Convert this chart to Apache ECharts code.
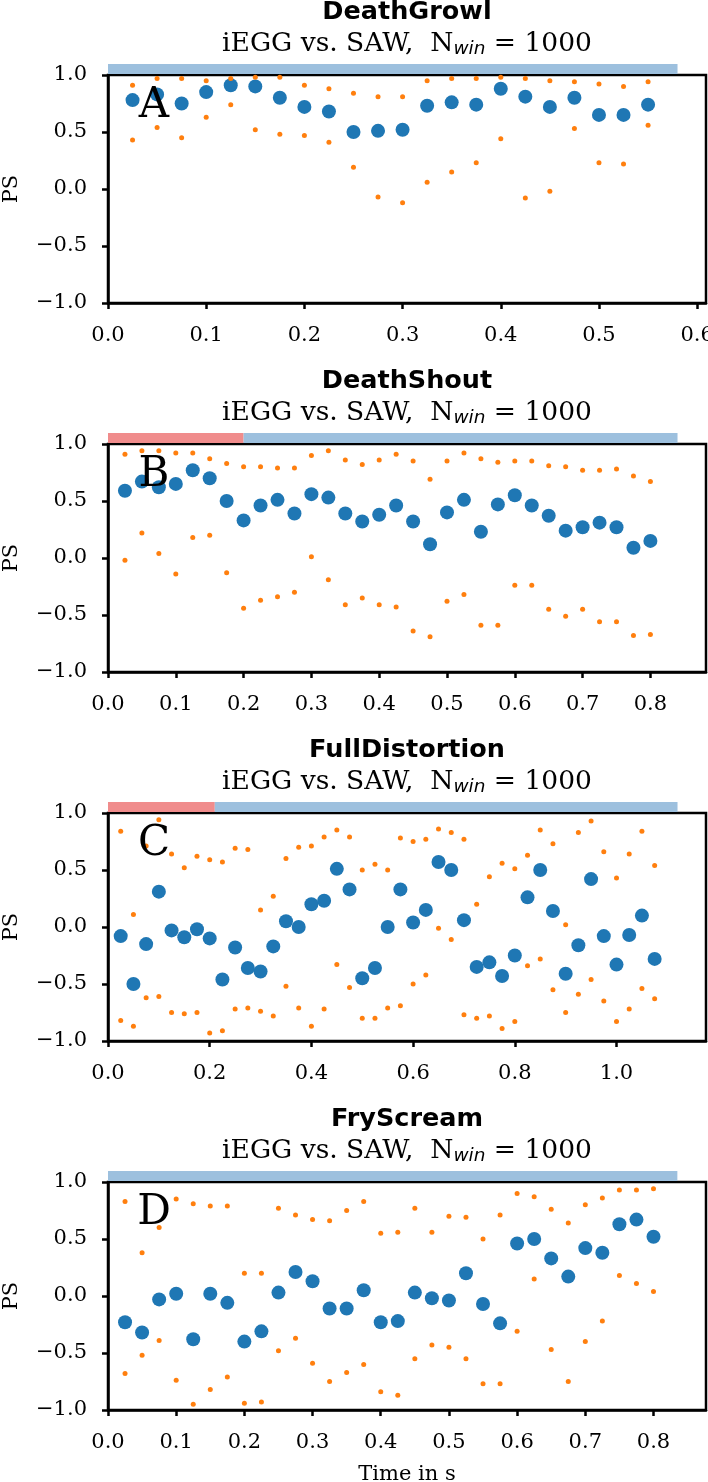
<!DOCTYPE html>
<html><head><meta charset="utf-8">
<script src="https://cdn.jsdelivr.net/npm/echarts@6/dist/echarts.min.js"></script>
<style>html,body{margin:0;padding:0;background:#fff}#c{width:708px;height:1482px}</style>
</head><body><div id="c"></div>
<script>
// ---------- data ----------
const panelNames = ['DeathGrowl', 'DeathShout', 'FullDistortion', 'FryScream'];
const panelLetters = ['A', 'B', 'C', 'D'];
const subtitleMain1 = 'iEGG vs. SAW,  N';
const subtitleSub = 'win';
const subtitleMain2 = ' = 1000';

const yTicks = [-1.0, -0.5, 0.0, 0.5, 1.0];
const xTicksA = [0.0, 0.1, 0.2, 0.3, 0.4, 0.5, 0.6];
const xTicksB = [0.0, 0.1, 0.2, 0.3, 0.4, 0.5, 0.6, 0.7, 0.8];
const xTicksC = [0.0, 0.2, 0.4, 0.6, 0.8, 1.0];
const xTicksD = [0.0, 0.1, 0.2, 0.3, 0.4, 0.5, 0.6, 0.7, 0.8];
const xMaxes = [0.609, 0.882, 1.176, 0.877];

// duration bars: [start, end, colourIndex] (0 = blue, 1 = red)
const segA = [[0.0, 0.58, 0]];
const segB = [[0.0, 0.20, 1], [0.20, 0.84, 0]];
const segC = [[0.0, 0.21, 1], [0.21, 1.12, 0]];
const segD = [[0.0, 0.835, 0]];

const tA = [0.025,0.05,0.075,0.1,0.125,0.15,0.175,0.2,0.225,0.25,0.275,0.3,0.325,0.35,0.375,0.4,0.425,0.45,0.475,0.5,0.525,0.55];
const psA = [0.78,0.83,0.75,0.85,0.91,0.90,0.80,0.72,0.68,0.50,0.51,0.52,0.73,0.76,0.74,0.88,0.81,0.72,0.80,0.65,0.65,0.74];
const hiA = [0.91,0.97,0.97,0.95,0.97,0.98,0.98,0.91,0.88,0.84,0.81,0.81,0.95,0.97,0.97,0.98,0.97,0.95,0.94,0.92,0.90,0.94];
const loA = [0.43,0.54,0.45,0.63,0.74,0.52,0.48,0.47,0.41,0.19,-0.07,-0.12,0.06,0.15,0.23,0.44,-0.08,-0.02,0.53,0.23,0.22,0.56];

const tB = [0.025,0.05,0.075,0.1,0.125,0.15,0.175,0.2,0.225,0.25,0.275,0.3,0.325,0.35,0.375,0.4,0.425,0.45,0.475,0.5,0.525,0.55,0.575,0.6,0.625,0.65,0.675,0.7,0.725,0.75,0.775,0.8];
const psB = [0.59,0.67,0.62,0.65,0.77,0.70,0.50,0.33,0.46,0.51,0.39,0.56,0.53,0.39,0.32,0.38,0.46,0.32,0.12,0.40,0.51,0.23,0.47,0.55,0.46,0.37,0.24,0.27,0.31,0.27,0.09,0.15];
const hiB = [0.91,0.94,0.94,0.92,0.92,0.87,0.83,0.80,0.80,0.79,0.79,0.90,0.94,0.86,0.82,0.86,0.91,0.85,0.69,0.85,0.92,0.87,0.84,0.85,0.85,0.81,0.80,0.77,0.77,0.78,0.72,0.67];
const loB = [-0.02,0.22,0.04,-0.14,0.18,0.20,-0.13,-0.44,-0.37,-0.34,-0.30,0.01,-0.19,-0.41,-0.35,-0.41,-0.43,-0.64,-0.69,-0.38,-0.32,-0.59,-0.59,-0.24,-0.24,-0.45,-0.51,-0.45,-0.56,-0.56,-0.68,-0.67];

const tC = [0.025,0.05,0.075,0.1,0.125,0.15,0.175,0.2,0.225,0.25,0.275,0.3,0.325,0.35,0.375,0.4,0.425,0.45,0.475,0.5,0.525,0.55,0.575,0.6,0.625,0.65,0.675,0.7,0.725,0.75,0.775,0.8,0.825,0.85,0.875,0.9,0.925,0.95,0.975,1.0,1.025,1.05,1.075];
const psC = [-0.08,-0.50,-0.15,0.31,-0.03,-0.09,-0.02,-0.10,-0.46,-0.18,-0.36,-0.39,-0.17,0.05,0.00,0.20,0.23,0.51,0.33,-0.45,-0.36,0.00,0.33,0.04,0.15,0.57,0.50,0.06,-0.35,-0.31,-0.43,-0.25,0.26,0.50,0.14,-0.41,-0.16,0.42,-0.08,-0.33,-0.07,0.10,-0.28];
const hiC = [0.84,0.11,0.71,0.94,0.64,0.52,0.62,0.59,0.57,0.69,0.68,0.15,0.27,0.60,0.70,0.71,0.79,0.85,0.79,0.50,0.55,0.50,0.78,0.75,0.77,0.86,0.83,0.77,0.20,0.44,0.56,0.51,0.63,0.85,0.73,0.02,0.83,0.93,0.66,0.43,0.64,0.84,0.54];
const loC = [-0.82,-0.87,-0.62,-0.61,-0.75,-0.76,-0.75,-0.93,-0.91,-0.72,-0.71,-0.74,-0.78,-0.52,-0.71,-0.87,-0.72,-0.33,-0.53,-0.80,-0.80,-0.71,-0.69,-0.50,-0.42,-0.01,-0.11,-0.77,-0.80,-0.78,-0.89,-0.83,-0.34,-0.28,-0.55,-0.75,-0.59,-0.46,-0.65,-0.83,-0.72,-0.54,-0.63];

const tD = [0.025,0.05,0.075,0.1,0.125,0.15,0.175,0.2,0.225,0.25,0.275,0.3,0.325,0.35,0.375,0.4,0.425,0.45,0.475,0.5,0.525,0.55,0.575,0.6,0.625,0.65,0.675,0.7,0.725,0.75,0.775,0.8];
const psD = [-0.23,-0.32,-0.03,0.02,-0.38,0.02,-0.06,-0.40,-0.31,0.03,0.21,0.13,-0.11,-0.11,0.05,-0.23,-0.22,0.03,-0.02,-0.04,0.20,-0.07,-0.24,0.46,0.50,0.33,0.17,0.42,0.38,0.63,0.67,0.52];
const hiD = [0.83,0.38,0.60,0.85,0.81,0.79,0.79,0.20,0.20,0.77,0.71,0.67,0.66,0.75,0.83,0.55,0.56,0.77,0.56,0.70,0.69,0.50,0.71,0.90,0.87,0.76,0.64,0.80,0.86,0.93,0.93,0.94];
const loD = [-0.68,-0.52,-0.39,-0.74,-0.95,-0.82,-0.71,-0.94,-0.93,-0.48,-0.37,-0.59,-0.75,-0.67,-0.60,-0.84,-0.87,-0.55,-0.43,-0.45,-0.55,-0.77,-0.77,-0.31,0.15,-0.47,-0.75,-0.40,-0.22,0.18,0.11,0.04];

// ---------- styling / layout ----------
const BLUE = '#1f77b4', ORANGE = '#ff7f0e';
const SEG_COLORS = ['#9dc0de', '#f08c8c'];
const SERIF = '"DejaVu Serif", serif';
const SANS = '"DejaVu Sans", sans-serif';
const GL = 108, GW = 598, GH = 228;
const TOPS = [75, 444, 813, 1182];
const LW = 2.5;
const FS = 21;

const panels = [
  {t: tA, ps: psA, hi: hiA, lo: loA, seg: segA, xt: xTicksA},
  {t: tB, ps: psB, hi: hiB, lo: loB, seg: segB, xt: xTicksB},
  {t: tC, ps: psC, hi: hiC, lo: loC, seg: segC, xt: xTicksC},
  {t: tD, ps: psD, hi: hiD, lo: loD, seg: segD, xt: xTicksD}
];

const fmt = v => (v < 0 ? '\u2212' : '') + Math.abs(v).toFixed(1);
const zip = (xs, ys) => xs.map((x, i) => [x, ys[i]]);

const grid = [], xAxis = [], yAxis = [], series = [], graphic = [];
panels.forEach((p, k) => {
  const top = TOPS[k];
  const gi = grid.length;
  grid.push({left: GL, top: top, width: GW, height: GH, show: true, borderColor: '#000', borderWidth: LW,
    backgroundColor: 'transparent', containLabel: false, outerBoundsMode: 'none'});
  grid.push({left: GL, top: top - 11, width: GW, height: 10, containLabel: false, outerBoundsMode: 'none'});
  xAxis.push({
    type: 'value', gridIndex: gi, min: 0, max: xMaxes[k],
    splitLine: {show: false},
    axisLine: {onZero: false, lineStyle: {color: '#000', width: LW}},
    axisTick: {length: 6, lineStyle: {color: '#000', width: LW}, customValues: p.xt},
    axisLabel: {customValues: p.xt, formatter: fmt, fontFamily: SERIF, fontSize: FS, color: '#000', margin: 22},
    name: k === 3 ? 'Time in s' : '', nameLocation: 'middle', nameGap: 54,
    nameTextStyle: {fontFamily: SERIF, fontSize: FS, color: '#000'}
  });
  xAxis.push({type: 'value', gridIndex: gi + 1, min: 0, max: xMaxes[k], show: false});
  yAxis.push({
    type: 'value', gridIndex: gi, min: -1, max: 1, interval: 0.5,
    splitLine: {show: false},
    axisLine: {lineStyle: {color: '#000', width: LW}},
    axisTick: {length: 6, lineStyle: {color: '#000', width: LW}, customValues: yTicks},
    axisLabel: {customValues: yTicks, formatter: fmt, fontFamily: SERIF, fontSize: FS, color: '#000', margin: 21},
    name: 'PS', nameLocation: 'middle', nameGap: 86, nameRotate: 90,
    nameTextStyle: {fontFamily: SERIF, fontSize: FS, color: '#000'}
  });
  yAxis.push({type: 'value', gridIndex: gi + 1, min: 0, max: 1, show: false});

  series.push({
    type: 'custom', xAxisIndex: gi + 1, yAxisIndex: gi + 1, data: p.seg, silent: true,
    renderItem: (params, api) => {
      const s = api.coord([api.value(0), 0]);
      const e = api.coord([api.value(1), 1]);
      return {type: 'rect', shape: {x: s[0], y: e[1], width: e[0] - s[0], height: s[1] - e[1]},
              style: {fill: SEG_COLORS[api.value(2)]}};
    }
  });
  series.push({type: 'scatter', xAxisIndex: gi, yAxisIndex: gi, data: zip(p.t, p.ps),
    symbolSize: 14, itemStyle: {color: BLUE, opacity: 1}, z: 2, silent: true});
  series.push({type: 'scatter', xAxisIndex: gi, yAxisIndex: gi, data: zip(p.t, p.hi),
    symbolSize: 5, itemStyle: {color: ORANGE, opacity: 1}, z: 3, silent: true});
  series.push({type: 'scatter', xAxisIndex: gi, yAxisIndex: gi, data: zip(p.t, p.lo),
    symbolSize: 5, itemStyle: {color: ORANGE, opacity: 1}, z: 3, silent: true});

  const off = 369 * k;
  graphic.push({type: 'text', x: GL + GW / 2, y: 12.5 + off, z: 100,
    style: {text: panelNames[k], align: 'center', verticalAlign: 'middle', fontFamily: SANS, fontWeight: 'bold', fontSize: 25.5, fill: '#000'}});
  graphic.push({type: 'text', x: GL + GW / 2, y: 44 + off, z: 100,
    style: {text: '{m|' + subtitleMain1 + '}{s|' + subtitleSub + '}{m|' + subtitleMain2 + '}',
      align: 'center', verticalAlign: 'middle',
      rich: {
        m: {fontFamily: SERIF, fontSize: 26.5, lineHeight: 30, fill: '#000', verticalAlign: 'middle'},
        s: {fontFamily: SANS, fontStyle: 'italic', fontSize: 18.5, lineHeight: 18, fill: '#000', verticalAlign: 'bottom'}
      }}});
  graphic.push({type: 'text', x: 154, y: 106 + off, z: 100,
    style: {text: panelLetters[k], align: 'center', verticalAlign: 'middle', fontFamily: SERIF, fontSize: 42, fill: '#000'}});
});

const chart = echarts.init(document.getElementById('c'), null, {renderer: 'canvas'});
chart.setOption({animation: false, grid, xAxis, yAxis, series, graphic});
</script></body></html>
